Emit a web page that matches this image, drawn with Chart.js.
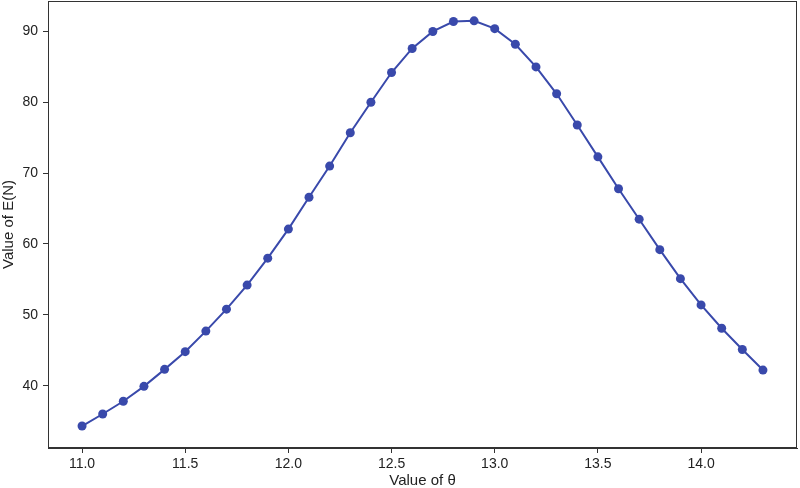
<!DOCTYPE html>
<html lang="en">
<head>
  <meta charset="UTF-8">
  <title>Value of E(N)</title>
  <script src="https://cdn.jsdelivr.net/npm/chart.js"></script>
  <style>
    body { margin: 0; background: #fff; }
    #wrap { width: 800px; height: 488px; }
  </style>
</head>
<body>
<div id="wrap"><canvas id="chart"></canvas></div>
<script>
  // data
  const thetas = [11.0, 11.1, 11.2, 11.3, 11.4, 11.5, 11.6, 11.7, 11.8, 11.9,
                  12.0, 12.1, 12.2, 12.3, 12.4, 12.5, 12.6, 12.7, 12.8, 12.9,
                  13.0, 13.1, 13.2, 13.3, 13.4, 13.5, 13.6, 13.7, 13.8, 13.9,
                  14.0, 14.1, 14.2, 14.3];
  const energy = [34.3, 36.0, 37.8, 39.9, 42.3, 44.8, 47.7, 50.8, 54.2, 58.0,
                  62.1, 66.6, 71.0, 75.7, 80.0, 84.2, 87.6, 90.0, 91.4, 91.5,
                  90.4, 88.2, 85.0, 81.2, 76.8, 72.3, 67.8, 63.5, 59.2, 55.1,
                  51.4, 48.1, 45.1, 42.2];
  const xTicks = [11.0, 11.5, 12.0, 12.5, 13.0, 13.5, 14.0];
  const yTicks = [40, 50, 60, 70, 80, 90];

  const lineColor = '#3949ab';
  const axisColor = '#333';
  const tickFont = { family: 'Liberation Sans', size: 14 };
  const titleFont = { family: 'Liberation Sans', size: 15 };

  // box round the plot (matplotlib spines)
  const frame = {
    id: 'frame',
    afterDraw(chart) {
      const a = chart.chartArea;
      const c = chart.ctx;
      c.save();
      c.strokeStyle = axisColor;
      c.lineWidth = 1;
      c.strokeRect(a.left + 0.5, a.top + 0.5, a.right - a.left - 1, a.bottom - a.top - 1);
      c.restore();
    }
  };

  const points = thetas.map((t, i) => ({ x: t, y: energy[i] }));

  new Chart(document.getElementById('chart'), {
    type: 'line',
    data: {
      datasets: [{
        data: points,
        borderColor: lineColor,
        backgroundColor: lineColor,
        borderWidth: 2,
        pointRadius: 4.5,
        pointBorderWidth: 0,
        tension: 0
      }]
    },
    options: {
      responsive: true,
      maintainAspectRatio: false,
      animation: false,
      layout: { autoPadding: false, padding: { top: 1, right: 3, left: 0, bottom: 0 } },
      plugins: { legend: { display: false }, tooltip: { enabled: false } },
      scales: {
        x: {
          type: 'linear',
          min: 10.835,
          max: 14.465,
          afterBuildTicks: s => { s.ticks = xTicks.map(v => ({ value: v })); },
          afterFit: s => { s.height = 40; s.paddingLeft = 0; s.paddingRight = 0; },
          grid: { display: true, drawOnChartArea: false, tickLength: 5, color: axisColor },
          border: { display: true, color: axisColor },
          ticks: { font: tickFont, color: '#222', padding: 3, maxRotation: 0, callback: v => v.toFixed(1) },
          title: { display: true, text: 'Value of θ', font: titleFont, color: '#222', padding: { top: 0, bottom: -2 } }
        },
        y: {
          min: 31.2,
          max: 94.3,
          afterBuildTicks: s => { s.ticks = yTicks.map(v => ({ value: v })); },
          afterFit: s => { s.width = 48; s.paddingTop = 0; s.paddingBottom = 0; },
          grid: { display: true, drawOnChartArea: false, tickLength: 5, color: axisColor },
          border: { display: true, color: axisColor },
          ticks: { font: tickFont, color: '#222', padding: 5, callback: v => String(v) },
          title: { display: true, text: 'Value of E(N)', font: titleFont, color: '#222', padding: { top: 0, bottom: 0 } }
        }
      }
    },
    plugins: [frame]
  });
</script>
</body>
</html>
